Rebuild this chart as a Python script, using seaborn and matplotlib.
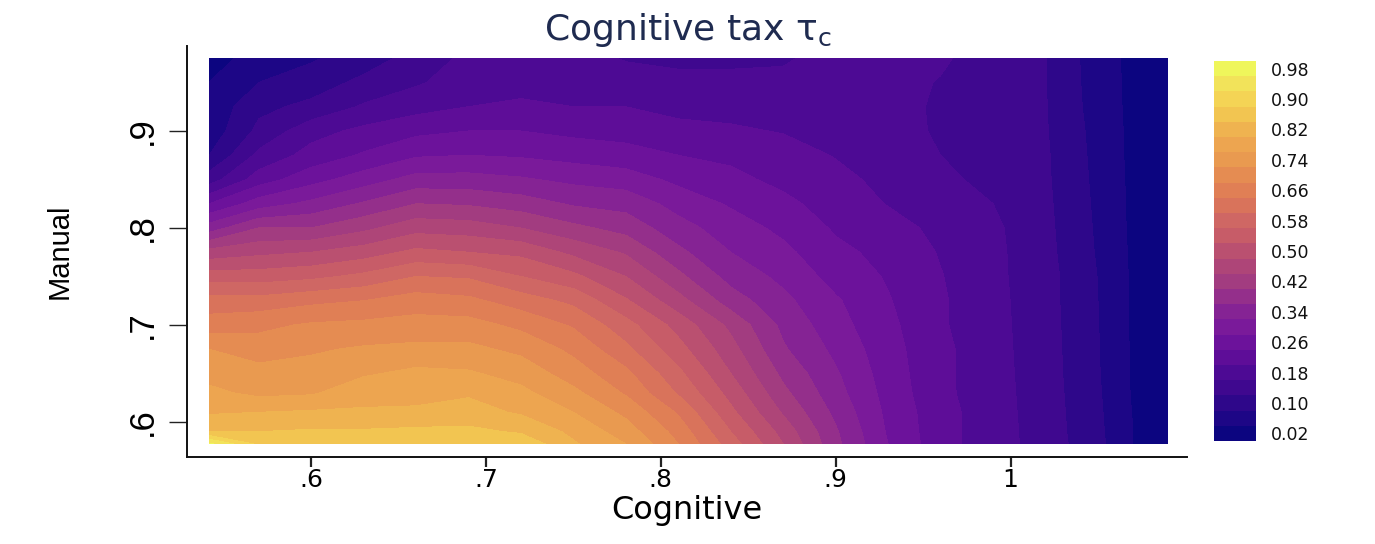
import numpy as np
import matplotlib
matplotlib.use("Agg")
import matplotlib.pyplot as plt
from matplotlib.colors import ListedColormap
import seaborn as sns

cognitive = [.5417,.57,.60,.63,.66,.69,.72,.75,.78,.81,.84,.87,.90,.93,.96,.99,1.02,1.05,1.07,1.09]
manual = [.5773,.59,.61,.63,.65,.675,.70,.725,.75,.775,.80,.825,.85,.875,.90,.925,.95,.975]
col_542 = [.97,.84,.795,.77,.745,.72,.66,.615,.54,.455,.34,.24,.14,.08,.055,.05,.04,.03]
col_570 = [.87,.84,.80,.75,.735,.70,.67,.615,.54,.47,.40,.30,.22,.17,.13,.11,.08,.05]
col_600 = [.87,.845,.805,.755,.735,.715,.685,.63,.55,.48,.40,.33,.265,.215,.185,.13,.10,.075]
col_630 = [.875,.845,.805,.785,.755,.725,.69,.64,.57,.50,.43,.365,.30,.245,.21,.165,.13,.10]
col_660 = [.88,.85,.805,.79,.77,.73,.695,.66,.60,.53,.465,.40,.335,.275,.23,.185,.155,.135]
col_690 = [.88,.85,.815,.795,.765,.73,.695,.65,.595,.52,.46,.395,.335,.28,.24,.20,.18,.17]
col_720 = [.87,.835,.795,.77,.745,.71,.67,.62,.56,.51,.44,.38,.325,.275,.24,.205,.19,.185]
col_750 = [.805,.79,.76,.73,.70,.67,.635,.59,.53,.47,.41,.355,.31,.265,.23,.20,.185,.175]
col_780 = [.76,.74,.71,.675,.65,.61,.575,.525,.48,.435,.385,.345,.30,.255,.225,.20,.178,.157]
col_810 = [.68,.665,.635,.595,.57,.535,.505,.455,.41,.37,.335,.305,.27,.24,.21,.19,.172,.15]
col_840 = [.58,.56,.53,.505,.48,.455,.43,.38,.345,.32,.30,.275,.25,.232,.205,.188,.172,.15]
col_870 = [.48,.465,.435,.41,.39,.365,.35,.33,.31,.29,.27,.25,.23,.215,.198,.185,.17,.155]
col_900 = [.37,.365,.35,.335,.325,.31,.295,.285,.265,.25,.235,.222,.21,.198,.19,.183,.18,.175]
col_930 = [.28,.275,.27,.265,.26,.255,.25,.243,.236,.228,.215,.198,.19,.18,.175,.172,.172,.175]
col_960 = [.215,.215,.215,.21,.21,.21,.205,.205,.202,.197,.19,.178,.168,.16,.155,.155,.158,.165]
col_990 = [.178,.178,.177,.176,.175,.174,.173,.172,.17,.17,.168,.16,.15,.143,.14,.14,.142,.143]
col_1020 = [.142,.141,.14,.139,.138,.137,.136,.135,.135,.132,.13,.128,.126,.125,.123,.122,.121,.121]
col_1050 = [.091,.089,.087,.085,.083,.082,.081,.08,.079,.076,.074,.072,.07,.068,.066,.062,.06,.058]
col_1070 = [.04,.04,.038,.036,.035,.035,.034,.034,.034,.033,.032,.031,.031,.03,.03,.03,.03,.03]
col_1090 = [.02,.02,.02,.02,.02,.02,.02,.02,.02,.02,.02,.02,.02,.02,.02,.02,.02,.02]
columns = [col_542,col_570,col_600,col_630,col_660,col_690,col_720,col_750,col_780,col_810,
           col_840,col_870,col_900,col_930,col_960,col_990,col_1020,col_1050,col_1070,col_1090]

level_edges = [0,.04,.08,.12,.16,.20,.24,.28,.32,.36,.40,.44,.48,.52,.56,.60,.64,.68,.72,.76,.80,.84,.88,.92,.96,1.0]
level_centres = [.98,.94,.90,.86,.82,.78,.74,.70,.66,.62,.58,.54,.50,.46,.42,.38,.34,.30,.26,.22,.18,.14,.10,.06,.02]
level_colours = ["#0C0580","#1D0686","#2E078A","#3F088F","#4D0A94","#5E0D98","#6C129B","#7A1A9A","#852394",
                 "#942F8B","#A23C80","#AE4578","#BA5070","#C75C68","#CF6764","#D9735B","#E07F55","#E58C52",
                 "#E99A50","#EDA550","#EFB350","#F2C551","#F4D455","#F2E35A","#EFF65B"]
bar_labels = ["0.98","0.90","0.82","0.74","0.66","0.58","0.50","0.42","0.34","0.26","0.18","0.10","0.02"]
x_ticks = [.6,.7,.8,.9,1.0]
x_tick_labels = [".6",".7",".8",".9","1"]
y_ticks = [.6,.7,.8,.9]
y_tick_labels = [".6",".7",".8",".9"]

W, H = 1375, 544
sns.set_theme(style="ticks", rc={"axes.linewidth": 1.4, "axes.edgecolor": "#111111"})
plt.rcParams["font.family"] = ["DejaVu Sans"]
fig = plt.figure(figsize=(W/100, H/100), dpi=100, facecolor="white")

def box(l, t, r, b):
    return [l/W, 1-b/H, (r-l)/W, (b-t)/H]

ax = fig.add_axes(box(187, 46, 1187, 457))
ax.contourf(cognitive, manual, np.column_stack(columns), levels=level_edges, colors=level_colours)
ax.set_xlim(.5290, 1.1009)
ax.set_ylim(.5639, .9876)
sns.despine(ax=ax)
narrow = ["Liberation Sans"]
ax.set_xticks(x_ticks, x_tick_labels, fontsize=18, color="black")
ax.set_yticks(y_ticks, y_tick_labels, fontsize=25, rotation=90, va="center", family=narrow, color="black")
ax.tick_params(axis="x", length=7, width=1.6, color="#222222", pad=1)
ax.tick_params(axis="y", length=13, width=1.0, color="#222222", pad=7)
ax.set_xlabel("Cognitive", fontsize=23, color="black", va="center")
ax.set_ylabel("Manual", fontsize=21, color="black", family=narrow, va="center")
ax.yaxis.set_label_coords((60-187)/1000, (457-251)/411)
ax.xaxis.set_label_coords((687-187)/1000, -(510-457)/411)
fig.text(688/W, 1-40/H, r"Cognitive tax $\mathregular{\tau_c}$", ha="center", va="baseline",
         fontsize=26, color="#1f2b50")

cax = fig.add_axes(box(1214, 61, 1256, 441))
sns.heatmap(np.array(level_centres).reshape(-1, 1), ax=cax, cmap=ListedColormap(level_colours),
            vmin=0, vmax=1, cbar=False, xticklabels=False, yticklabels=False)
cax.yaxis.tick_right()
cax.set_yticks(np.arange(0.5, 25, 2), bar_labels, fontsize=12.5, rotation=0, color="#111111")
cax.tick_params(axis="y", length=0, pad=11)
cax.set_xlabel(""); cax.set_ylabel("")

fig.savefig("out.png", dpi=100, facecolor="white")
